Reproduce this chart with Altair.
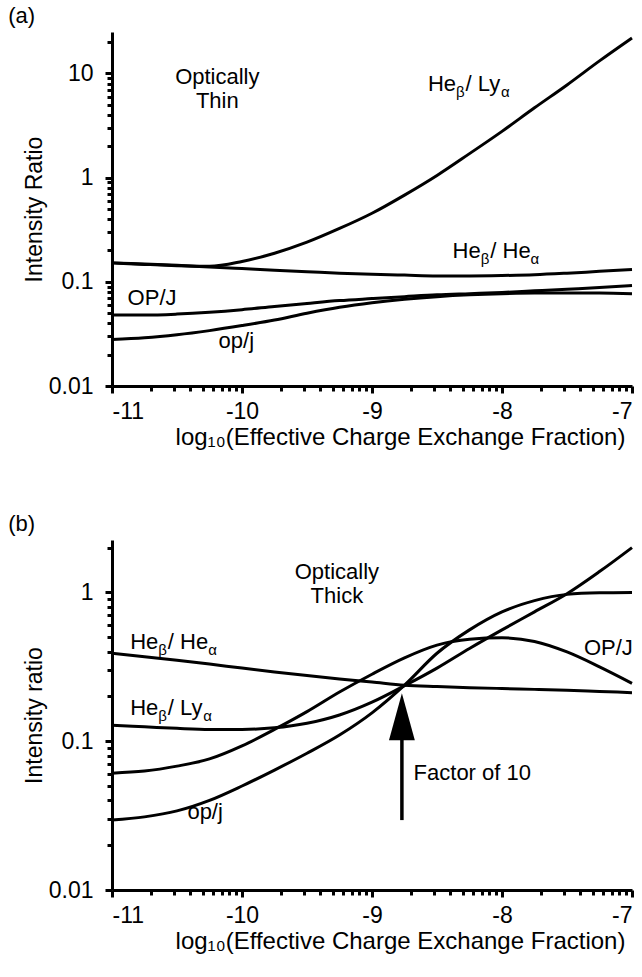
import math
import altair as alt
import pandas as pd

FONT = "Liberation Sans"
W = 520
HA = 354
HB = 350
MAIN = 22
SUB = 15

x_grid = [-11, -10.75, -10.5, -10.25, -10, -9.75, -9.5, -9.25, -9, -8.75,
          -8.5, -8.25, -8, -7.75, -7.5, -7.25, -7]

# ---- panel (a): optically thin ----
a_heb_lya = [0.152, 0.147, 0.143, 0.141, 0.157, 0.188, 0.24, 0.325, 0.455, 0.68,
             1.05, 1.70, 2.78, 4.68, 7.76, 13.2, 21.9]
a_heb_hea = [0.152, 0.148, 0.144, 0.139, 0.134, 0.129, 0.125, 0.121, 0.118, 0.116,
             0.114, 0.114, 0.115, 0.117, 0.121, 0.126, 0.131]
a_OPJ = [0.048, 0.048, 0.049, 0.051, 0.054, 0.058, 0.062, 0.066, 0.069, 0.072,
         0.075, 0.077, 0.079, 0.082, 0.085, 0.088, 0.092]
a_opj = [0.028, 0.029, 0.031, 0.034, 0.038, 0.043, 0.050, 0.057, 0.063, 0.068,
         0.072, 0.075, 0.077, 0.078, 0.078, 0.078, 0.077]

# ---- panel (b): optically thick ----
b_heb_hea = [0.39, 0.37, 0.35, 0.33, 0.31, 0.292, 0.276, 0.262, 0.25, 0.238,
             0.233, 0.229, 0.226, 0.223, 0.22, 0.216, 0.212]
b_heb_lya = [0.128, 0.125, 0.122, 0.120, 0.120, 0.123, 0.132, 0.150, 0.183, 0.236,
             0.31, 0.42, 0.56, 0.74, 0.98, 1.38, 2.0]
b_OPJ = [0.061, 0.063, 0.068, 0.076, 0.093, 0.120, 0.158, 0.214, 0.282, 0.363,
         0.442, 0.484, 0.495, 0.468, 0.398, 0.316, 0.245]
b_opj = [0.0295, 0.031, 0.034, 0.040, 0.050, 0.064, 0.083, 0.11, 0.155, 0.238,
         0.39, 0.56, 0.74, 0.88, 0.97, 0.995, 1.0]

# ---- labels ----
a_label_text = ["He_β/ Ly_α", "He_β/ He_α", "OP/J", "op/j"]
a_label_x = [-8.57, -8.38, -10.88, -10.18]
a_label_y = [7.9, 0.197, 0.0697, 0.027]
a_note = ["Optically\nThin"]
a_note_x = [-10.19]
a_note_y = [9.3]

b_label_text = ["He_β/ He_α", "He_β/ Ly_α", "OP/J", "op/j", "Factor of 10"]
b_label_x = [-10.86, -10.86, -7.37, -10.42, -8.68]
b_label_y = [0.461, 0.167, 0.42, 0.0334, 0.061]
b_note = ["Optically\nThick"]
b_note_x = [-9.27]
b_note_y = [1.38]

arrow_x = [-8.77]
arrow_from = [0.0295]
arrow_to = [0.11]
arrow_head = [0.146]

x_ticks = [-11, -10, -9, -8, -7]
a_y_ticks = [0.01, 0.1, 1, 10]
b_y_ticks = [0.01, 0.1, 1]
a_y_domain = [0.01, 25]
b_y_domain = [0.01, 2.25]

CW = {'H': 0.722, 'e': 0.556, 'L': 0.556, 'y': 0.5, '/': 0.278, ' ': 0.278,
      'O': 0.778, 'P': 0.667, 'J': 0.5, 'o': 0.556, 'p': 0.556, 'j': 0.222,
      'β': 0.57, 'α': 0.58}


def text_width(s, size):
    return sum(CW.get(c, 0.55) for c in s) * size


def split_runs(s):
    runs, buf, i = [], "", 0
    while i < len(s):
        if s[i] == "_" and i + 1 < len(s):
            if buf:
                runs.append((buf, False))
                buf = ""
            runs.append((s[i + 1], True))
            i += 2
        else:
            buf += s[i]
            i += 1
    if buf:
        runs.append((buf, False))
    return runs


def pieces(texts, xs, ys):
    main, sub = [], []
    for t, x0, y0 in zip(texts, xs, ys):
        off = 0.0
        for run, is_sub in split_runs(t):
            size = SUB if is_sub else MAIN
            row = {"x": x0 + off * 4.0 / W, "v": y0, "t": run}
            (sub if is_sub else main).append(row)
            off += text_width(run, size) + (1 if is_sub else 0)
    return pd.DataFrame(main), pd.DataFrame(sub)


def curves_df(series):
    rows = []
    for name, vals in series.items():
        for x, v in zip(x_grid, vals):
            rows.append({"series": name, "x": x, "v": v})
    return pd.DataFrame(rows)


def minor_x_vals():
    return [round(d + math.log10(k), 5) for d in x_ticks[:-1] for k in range(2, 10)]


def minor_y_vals(domain):
    vals = []
    for e in range(-2, 2):
        for k in range(2, 10):
            v = round(k * 10 ** e, 6)
            if domain[0] < v <= domain[1]:
                vals.append(v)
    return vals


def panel(series, lab_t, lab_x, lab_y, note, note_x, note_y, ydomain, yticks,
          ytitle, ptitle, H, extra=None):
    xs = alt.Scale(domain=[-11, -7], nice=False, zero=False)
    ys = alt.Scale(type="log", domain=ydomain, nice=False)
    X = alt.X("x:Q", scale=xs,
              axis=alt.Axis(values=x_ticks, labelExpr="'' + datum.value", orient="bottom",
                            title="log₁₀(Effective Charge Exchange Fraction)",
                            titleFontSize=24, titleAlign="center", titleX=W / 2 + 28))
    Y = alt.Y("v:Q", scale=ys,
              axis=alt.Axis(values=yticks, format="~g", title=ytitle, orient="left"))
    Xp = alt.X("x:Q", scale=xs, axis=None)
    Yp = alt.Y("v:Q", scale=ys, axis=None)
    lines = alt.Chart(curves_df(series)).mark_line(
        color="black", strokeWidth=3, interpolate="monotone"
    ).encode(x=X, y=Y, detail="series:N")
    mxv = minor_x_vals()
    myv = minor_y_vals(ydomain)
    mx = alt.Chart(pd.DataFrame({"x": mxv})).mark_point(opacity=0).encode(
        x=alt.X("x:Q", scale=xs,
                axis=alt.Axis(values=mxv, labels=False, title=None, domain=False,
                              tickSize=5, tickWidth=3, orient="bottom", grid=False)))
    my = alt.Chart(pd.DataFrame({"v": myv})).mark_point(opacity=0).encode(
        y=alt.Y("v:Q", scale=ys,
                axis=alt.Axis(values=myv, labels=False, title=None, domain=False,
                              tickSize=5, tickWidth=3, orient="left", grid=False)))
    mdf, sdf = pieces(lab_t, lab_x, lab_y)
    tmain = alt.Chart(mdf).mark_text(
        align="left", baseline="middle", fontSize=MAIN, font=FONT, color="black"
    ).encode(x=Xp, y=Yp, text="t:N")
    tsub = alt.Chart(sdf).mark_text(
        align="left", baseline="middle", fontSize=SUB, font=FONT, color="black", dy=8
    ).encode(x=Xp, y=Yp, text="t:N")
    ndf = pd.DataFrame({"x": note_x, "v": note_y, "t": note})
    tnote = alt.Chart(ndf).mark_text(
        align="center", baseline="middle", fontSize=MAIN, font=FONT, color="black",
        lineBreak="\n", lineHeight=24
    ).encode(x=Xp, y=Yp, text="t:N")
    layers = [lines, mx, my, tmain, tsub, tnote]
    if extra:
        layers += [e.encode(x=Xp, y=Yp) for e in extra]
    return alt.layer(*layers).resolve_axis(x="independent", y="independent").properties(
        width=W, height=H,
        title=alt.TitleParams(ptitle, anchor="start", frame="bounds", fontSize=22,
                              font=FONT, fontWeight="normal", color="black",
                              dx=-15, offset=4),
    )


arrow_df = pd.DataFrame({"x": arrow_x, "v": arrow_from, "v2": arrow_to})
head_df = pd.DataFrame({"x": arrow_x, "v": arrow_head})
shaft = alt.Chart(arrow_df).mark_rule(color="black", strokeWidth=3.5).encode(y2="v2:Q")
head = alt.Chart(head_df).mark_point(
    shape="M0,-1L0.55,1L-0.55,1Z", filled=True, size=2209, color="black",
    opacity=1, strokeWidth=0
)

pa = panel({"HeLy": a_heb_lya, "HeHe": a_heb_hea, "OPJ": a_OPJ, "opj": a_opj},
           a_label_text, a_label_x, a_label_y, a_note, a_note_x, a_note_y,
           a_y_domain, a_y_ticks, "Intensity Ratio", "(a)", HA)
pb = panel({"HeLy": b_heb_lya, "HeHe": b_heb_hea, "OPJ": b_OPJ, "opj": b_opj},
           b_label_text, b_label_x, b_label_y, b_note, b_note_x, b_note_y,
           b_y_domain, b_y_ticks, "Intensity ratio", "(b)", HB, extra=[shaft, head])

chart = alt.vconcat(pa, pb, spacing=64).properties(
    padding={"left": 8, "top": 4, "right": 0, "bottom": 12}
).configure(font=FONT).configure_view(stroke=None).configure_axis(
    domainColor="black", domainWidth=3, tickColor="black", tickWidth=3, tickSize=7,
    labelFontSize=23, labelColor="black", labelFont=FONT, titleFont=FONT,
    titleFontSize=23, titleFontWeight="normal", titleColor="black", grid=False,
    labelPadding=7, titlePadding=2,
).configure_axisY(labelPadding=12)

chart.save("out.html", embed_options={"renderer": "svg", "actions": False})
